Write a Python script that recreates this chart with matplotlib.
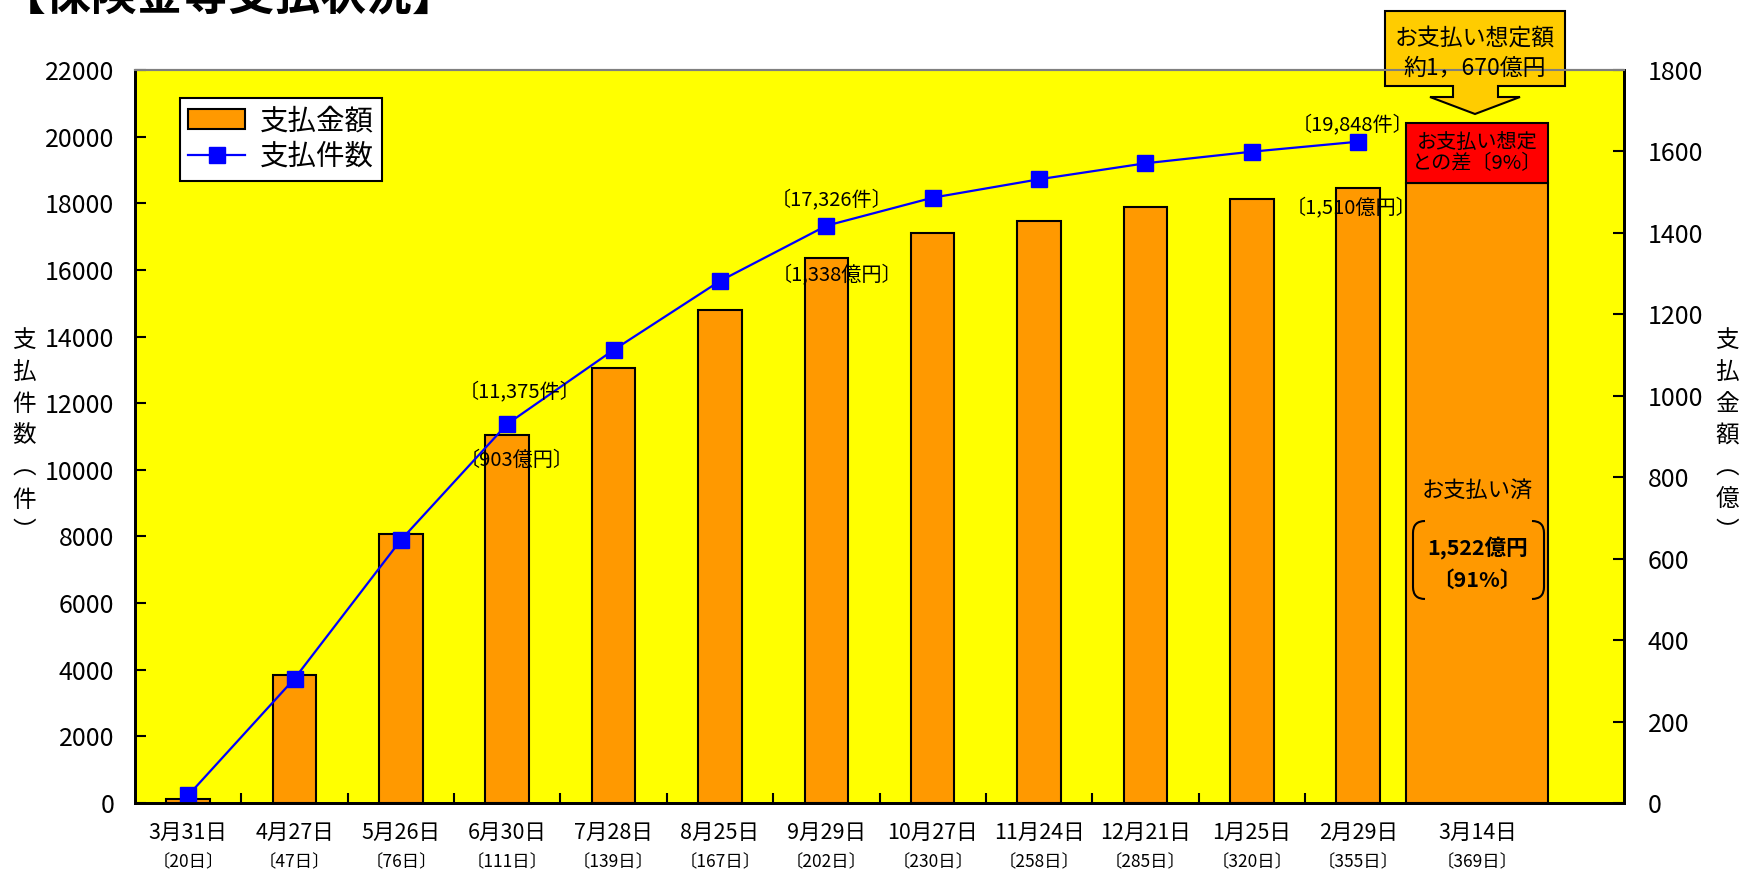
import matplotlib
matplotlib.use('Agg')
import matplotlib.pyplot as plt
from matplotlib.patches import Polygon, PathPatch, Patch
from matplotlib.path import Path
from matplotlib.lines import Line2D

plt.rcParams['font.family'] = ['Noto Sans CJK JP', 'DejaVu Sans']

# data
dates = ['3月31日', '4月27日', '5月26日', '6月30日', '7月28日', '8月25日', '9月29日',
         '10月27日', '11月24日', '12月21日', '1月25日', '2月29日', '3月14日']
days = ['〔20日〕', '〔47日〕', '〔76日〕', '〔111日〕', '〔139日〕', '〔167日〕', '〔202日〕',
        '〔230日〕', '〔258日〕', '〔285日〕', '〔320日〕', '〔355日〕', '〔369日〕']
amounts = [10, 314, 660, 903, 1069, 1211, 1338, 1399, 1429, 1464, 1482, 1510]   # 億円
counts = [230, 3734, 7894, 11375, 13597, 15667, 17326, 18168, 18720, 19200, 19548, 19848]  # 件
paid_final = 1522
expected_final = 1670
label_idx = [3, 6, 11]

ORANGE = '#FF9900'
YELLOW = '#FFFF00'
BLUE = '#0000FF'

W, H = 1742, 874
fig = plt.figure(figsize=(W / 100, H / 100), dpi=100)


def fx(px):
    return px / W


def fy(py):
    return 1 - py / H


ax = fig.add_axes([fx(135), fy(803), fx(1624) - fx(135), fy(70) - fy(803)])
ax2 = ax.twinx()
ax.set_zorder(ax2.get_zorder() + 1)
ax.patch.set_visible(False)
ax2.patch.set_visible(True)
ax2.patch.set_facecolor(YELLOW)

xs = list(range(len(amounts)))
x_last = 12.12

# bars (right axis)
ax2.bar(xs, amounts, width=0.41, color=ORANGE, edgecolor='black', linewidth=1.5)
ax2.bar(x_last, paid_final, width=1.33, color=ORANGE, edgecolor='black', linewidth=1.5)
ax2.bar(x_last, expected_final - paid_final, bottom=paid_final, width=1.33,
        color='#FF0000', edgecolor='black', linewidth=1.5)

# line (left axis)
ax.plot(xs, counts, color=BLUE, lw=1.6, marker='s', ms=12, mfc=BLUE, mec=BLUE)

ax.set_xlim(-0.5, 13.5)
ax.set_ylim(0, 22000)
ax2.set_ylim(0, 1800)
ax.set_yticks(range(0, 22001, 2000))
ax2.set_yticks(range(0, 1801, 200))
ax.tick_params(axis='y', direction='in', length=8, width=1.5, labelsize=18, pad=15)
ax2.tick_params(axis='y', direction='in', length=8, width=1.5, labelsize=18, pad=17)

ax.set_xticks([])
ax.set_xticks([i + 0.5 for i in range(11)], minor=True)
ax.tick_params(axis='x', which='minor', direction='in', length=7, width=1.5)

for a in (ax, ax2):
    for s in ('left', 'right', 'bottom'):
        a.spines[s].set_linewidth(2)
        a.spines[s].set_color('black')
    a.spines['top'].set_color('#808080')
    a.spines['top'].set_linewidth(1.5)

# x labels, two rows
xlab = xs + [x_last]
for x, d, n in zip(xlab, dates, days):
    ax.text(x, -0.041, d, transform=ax.get_xaxis_transform(), ha='center', va='center', fontsize=15.5)
    ax.text(x, -0.081, n, transform=ax.get_xaxis_transform(), ha='center', va='center', fontsize=12.5)

# value labels
count_off = [(9, 23), (4, 19), (-4, 12)]
amt_off = [(7, -18), (8, -12), (-5, -14)]
for k, i in enumerate(label_idx):
    ax.annotate(f'〔{counts[i]:,}件〕', (i, counts[i]), xytext=count_off[k], textcoords='offset points',
                ha='center', va='center', fontsize=14.5)
    ax2.annotate(f'〔{amounts[i]:,}億円〕', (i, amounts[i]), xytext=amt_off[k], textcoords='offset points',
                 ha='center', va='center', fontsize=14.5)

# last bar texts
ax2.text(x_last, (paid_final + expected_final) / 2, 'お支払い想定\nとの差〔9%〕', ha='center', va='center',
         fontsize=14.5, linespacing=1.05)
ax2.text(x_last, 768, 'お支払い済', ha='center', va='center', fontsize=16)
ax2.text(x_last, 626, f'{paid_final:,}億円', ha='center', va='center', fontsize=15.5, fontweight='bold')
ax2.text(x_last, 548, '〔91%〕', ha='center', va='center', fontsize=15.5, fontweight='bold')

# big round brackets around paid amount
for pts in ([(1425, 521), (1413, 521), (1413, 533), (1413, 587), (1413, 599), (1425, 599)],
            [(1532, 521), (1544, 521), (1544, 533), (1544, 587), (1544, 599), (1532, 599)]):
    verts = [(fx(x), fy(y)) for x, y in pts]
    codes = [Path.MOVETO, Path.CURVE3, Path.CURVE3, Path.LINETO, Path.CURVE3, Path.CURVE3]
    fig.add_artist(PathPatch(Path(verts, codes), fill=False, edgecolor='black', lw=1.5,
                             transform=fig.transFigure))

# callout with arrow
callout = [(1385, 11), (1565, 11), (1565, 86), (1498, 86), (1498, 97), (1520, 97), (1475, 114),
           (1430, 97), (1453, 97), (1453, 86), (1385, 86)]
fig.add_artist(Polygon([(fx(x), fy(y)) for x, y in callout], closed=True, facecolor='#FFCC00',
                       edgecolor='black', lw=1.5, transform=fig.transFigure))
fig.text(fx(1475), fy(39), 'お支払い想定額', ha='center', va='center', fontsize=16.5)
fig.text(fx(1475), fy(68), '約1，670億円', ha='center', va='center', fontsize=16.5)

# legend
handles = [Patch(facecolor=ORANGE, edgecolor='black', linewidth=1.5, label='支払金額'),
           Line2D([], [], color=BLUE, lw=1.6, marker='s', ms=12, label='支払件数')]
lgd = ax.legend(handles=handles, loc='upper left', bbox_to_anchor=(0.030, 0.962), borderaxespad=0,
                fontsize=20.5, fancybox=False, edgecolor='black', framealpha=1, handlelength=2.0,
                handleheight=0.7, borderpad=0.3, labelspacing=0.2, handletextpad=0.5)
lgd.get_frame().set_linewidth(1.5)

# vertical axis titles
for i, (cl, cr) in enumerate(zip('支払件数︵件︶', '支払金額︵億︶')):
    fig.text(fx(24), fy(340 + 32 * i), cl, ha='center', va='center', fontsize=17)
    fig.text(fx(1727), fy(340 + 32 * i), cr, ha='center', va='center', fontsize=17)

# title, cut off at the top edge as in the reference
fig.text(fx(0), fy(10), '【保険金等支払状況】', ha='left', va='baseline', fontsize=33, fontweight='bold')

fig.savefig('out.png', dpi=100, facecolor='white')
